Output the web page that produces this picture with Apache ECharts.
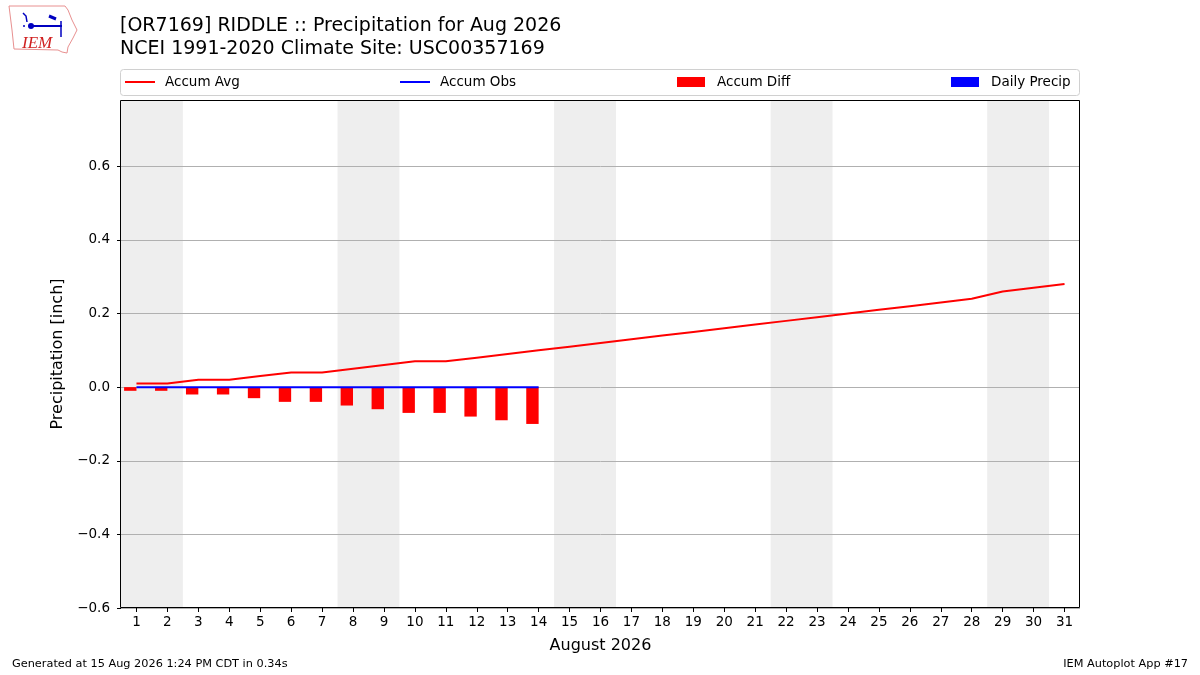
<!DOCTYPE html>
<html>
<head>
<meta charset="utf-8">
<script src="https://cdn.jsdelivr.net/npm/echarts@6/dist/echarts.min.js"></script>
<style>
html, body { margin: 0; padding: 0; background: #fff; }
#chart { width: 1200px; height: 675px; }
</style>
</head>
<body>
<div id="chart"></div>
<script>
// days of August 2026
var days = [];
for (var d = 1; d <= 31; d++) days.push(d);
// climatology accumulated precip (inch)
var accumAvg = [0.01, 0.01, 0.02, 0.02, 0.03, 0.04, 0.04, 0.05, 0.06, 0.07, 0.07, 0.08, 0.09, 0.10, 0.11, 0.12,
                0.13, 0.14, 0.15, 0.16, 0.17, 0.18, 0.19, 0.20, 0.21, 0.22, 0.23, 0.24, 0.26, 0.27, 0.28];
// observed so far (through the 14th)
var accumObs = [0, 0, 0, 0, 0, 0, 0, 0, 0, 0, 0, 0, 0, 0];
var accumDiff = [-0.01, -0.01, -0.02, -0.02, -0.03, -0.04, -0.04, -0.05, -0.06, -0.07, -0.07, -0.08, -0.09, -0.10];
var dailyPrecip = [0, 0, 0, 0, 0, 0, 0, 0, 0, 0, 0, 0, 0, 0];
// weekend spans (sat, sun)
var weekends = [[1, 2], [8, 9], [15, 16], [22, 23], [29, 30]];
var yTicks = [-0.6, -0.4, -0.2, 0, 0.2, 0.4, 0.6];

function pairs(vals) {
    return vals.map(function (v, i) { return [days[i], v]; });
}

function barRender(color, offset) {
    return function (params, api) {
        var day = api.value(0), v = api.value(1);
        var a = api.coord([day + offset, 0]);
        var b = api.coord([day + offset + 0.4, v]);
        return {
            type: 'rect',
            shape: { x: a[0], y: Math.min(a[1], b[1]), width: b[0] - a[0], height: Math.abs(b[1] - a[1]) },
            style: { fill: color }
        };
    };
}

var font = 'DejaVu Sans';
var lineLegend = { itemWidth: 30, itemHeight: 2, icon: 'rect', textStyle: { fontSize: 13.5, color: '#000', padding: [0, 0, 0, 5] } };
var barLegend = { itemWidth: 28, itemHeight: 10, icon: 'rect', textStyle: { fontSize: 13.5, color: '#000', padding: [0, 0, 0, 7] } };

var chart = echarts.init(document.getElementById('chart'));
var option = {
    animation: false,
    backgroundColor: '#fff',
    textStyle: { fontFamily: font },
    title: {
        text: '[OR7169] RIDDLE :: Precipitation for Aug 2026\nNCEI 1991-2020 Climate Site: USC00357169',
        left: 115, top: 10,
        textStyle: { fontFamily: font, fontSize: 19, fontWeight: 'normal', color: '#000', lineHeight: 23 }
    },
    legend: [
        Object.assign({ data: ['Accum Avg'], left: 120, top: 70 }, lineLegend),
        Object.assign({ data: ['Accum Obs'], left: 395, top: 70 }, lineLegend),
        Object.assign({ data: ['Accum Diff'], left: 672, top: 70 }, barLegend),
        Object.assign({ data: ['Daily Precip'], left: 946, top: 70 }, barLegend)
    ],
    grid: { left: 121, right: 120, top: 100, bottom: 67 },
    xAxis: {
        type: 'value', min: 0.5, max: 31.5,
        name: 'August 2026', nameLocation: 'middle', nameGap: 30,
        nameTextStyle: { fontSize: 16, color: '#000' },
        axisLine: { show: false, onZero: false },
        axisTick: { show: true, length: 4, customValues: days, lineStyle: { color: '#000' } },
        axisLabel: { customValues: days, fontSize: 13.5, color: '#000', margin: 7 },
        splitLine: { show: false }
    },
    yAxis: {
        type: 'value', min: -0.6, max: 0.78, interval: 0.2,
        name: 'Precipitation [inch]', nameLocation: 'middle', nameGap: 46,
        nameTextStyle: { fontSize: 16, color: '#000' },
        axisLine: { show: false, onZero: false },
        axisTick: { show: true, length: 4, customValues: yTicks, lineStyle: { color: '#000' } },
        axisLabel: {
            customValues: yTicks, fontSize: 13.5, color: '#000', margin: 11,
            formatter: function (v) { return v.toFixed(1).replace('-', '\u2212'); }
        },
        splitLine: { show: true, lineStyle: { color: '#b0b0b0', width: 1 } }
    },
    series: [
        {
            name: 'weekend', type: 'line', data: [], z: -1, silent: true,
            markArea: {
                silent: true,
                z: -1,
                itemStyle: { color: '#eeeeee' },
                data: weekends.map(function (w) { return [{ xAxis: w[0] - 0.5 }, { xAxis: w[1] + 0.5 }]; })
            }
        },
        {
            name: 'Daily Precip', type: 'custom', color: '#0000ff', z: 3,
            renderItem: barRender('#0000ff', -0.2),
            data: pairs(dailyPrecip)
        },
        {
            name: 'Accum Diff', type: 'custom', color: '#ff0000', z: 4,
            renderItem: barRender('#ff0000', -0.4),
            data: pairs(accumDiff)
        },
        {
            name: 'Accum Avg', type: 'line', color: '#ff0000', showSymbol: false, z: 5,
            lineStyle: { color: '#ff0000', width: 2 },
            data: pairs(accumAvg)
        },
        {
            name: 'Accum Obs', type: 'line', color: '#0000ff', showSymbol: false, z: 6,
            lineStyle: { color: '#0000ff', width: 2 },
            data: pairs(accumObs)
        }
    ],
    graphic: [
        { type: 'rect', z: 0, shape: { x: 120.5, y: 69.5, width: 959, height: 26, r: 3 }, style: { fill: 'none', stroke: '#d0d0d0', lineWidth: 1 } },
        { type: 'rect', z: 100, shape: { x: 120.5, y: 100.5, width: 959, height: 507 }, style: { fill: 'none', stroke: '#000', lineWidth: 1 } },
        // IEM logo
        {
            type: 'polyline', z: 10,
            shape: { points: [[9, 6], [65, 6], [68, 10], [72, 20], [77, 30], [73, 38], [68, 47], [67, 53], [62, 52], [58, 50], [14, 49], [12, 30], [10, 14], [9, 6]] },
            style: { fill: 'none', stroke: '#e89090', lineWidth: 1 }
        },
        { type: 'text', z: 10, x: 22, y: 35, style: { text: 'IEM', fill: '#d02020', font: 'italic 17px "Liberation Serif"' } },
        { type: 'line', z: 10, shape: { x1: 29, y1: 26, x2: 62, y2: 26 }, style: { stroke: '#0000c0', lineWidth: 2 } },
        { type: 'circle', z: 10, shape: { cx: 31, cy: 26, r: 3 }, style: { fill: '#0000c0' } },
        { type: 'polyline', z: 10, shape: { points: [[23, 13], [26, 16], [27, 22]] }, style: { fill: 'none', stroke: '#0000c0', lineWidth: 1.5 } },
        { type: 'line', z: 10, shape: { x1: 49, y1: 16, x2: 56, y2: 19 }, style: { stroke: '#0000c0', lineWidth: 3 } },
        { type: 'line', z: 10, shape: { x1: 61, y1: 21, x2: 61, y2: 37 }, style: { stroke: '#0000c0', lineWidth: 1.5 } },
        { type: 'circle', z: 10, shape: { cx: 24, cy: 26, r: 1 }, style: { fill: '#0000c0' } },
        // footer
        { type: 'text', x: 12, y: 659, style: { text: 'Generated at 15 Aug 2026 1:24 PM CDT in 0.34s', fill: '#000', font: '11.3px "DejaVu Sans"' } },
        { type: 'text', right: 12, top: 659, style: { text: 'IEM Autoplot App #17', fill: '#000', font: '11.3px "DejaVu Sans"' } }
    ]
};
chart.setOption(option);
</script>
</body>
</html>
